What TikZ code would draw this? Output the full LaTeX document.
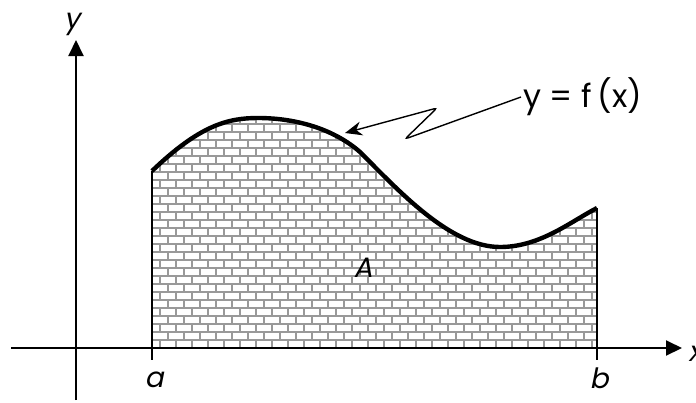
\documentclass[tikz,border=0pt]{standalone}
\usepackage{fontspec}
\setmainfont{Poppins}
\newfontfamily\slantfont{Poppins}[FakeSlant=0.2]
\usetikzlibrary{arrows.meta}

\begin{document}
\begin{tikzpicture}[
    x=0.5pt, y=-0.5pt,
    every node/.style={font=\fontsize{14}{17}\selectfont, inner sep=1pt},
    varlabel/.style={font=\fontsize{14}{17}\selectfont\slantfont},
    axis/.style={line width=1pt, -{Triangle[length=8pt,width=7.5pt]}},
    bound/.style={line width=1pt},
    graphline/.style={line width=2.2pt, line join=round},
    brick/.style={draw=gray!80, line width=0.75pt},
    pointer/.style={line width=0.7pt, rounded corners=1.5pt, -{Stealth[length=8.5pt,width=7pt]}}
  ]
  \useasboundingbox (0,0) rectangle (696,402);

  % Bricks under the graph
  \begin{scope}
    \clip (152,348) -- (152,171) .. controls (200,125) and (228,118) .. (258,118)
      .. controls (298,118) and (335,130) .. (360,152)
      .. controls (398,190) and (450,247) .. (500,247)
      .. controls (540,247) and (570,222) .. (597,208) -- (597,348) -- cycle;
    \foreach \row in {0,...,30} {
      \pgfmathsetmacro\yy{348-8*\row}
      \pgfmathsetmacro\off{mod(\row,2)*8}
      \draw[brick] (150,\yy) -- (600,\yy);
      \foreach \col in {0,...,29}
        \draw[brick] ({144+\off+16*\col},\yy) -- ++(0,-8);
    }
  \end{scope}

  % Axes
  \coordinate (xstart) at (11,348);
  \coordinate (xend) at (682,348);
  \coordinate (ybot) at (76,400);
  \coordinate (ytop) at (76,40);
  \draw[axis] (xstart) -- (xend);
  \draw[axis] (ybot) -- (ytop);

  % Bounds a and b
  \coordinate (fa) at (152,171);
  \coordinate (ta) at (152,360);
  \coordinate (fb) at (597,208);
  \coordinate (tb) at (597,360);
  \draw[bound] (fa) -- (ta);
  \draw[bound] (fb) -- (tb);

  % Graph
  \draw[graphline] (fa) .. controls (200,125) and (228,118) .. (258,118)
    .. controls (298,118) and (335,130) .. (360,152)
    .. controls (398,190) and (450,247) .. (500,247)
    .. controls (540,247) and (570,222) .. (fb);

  % Labels
  \node[varlabel] (ylab) at (72,24) {y};
  \node[varlabel, anchor=west] (xlab) at (686,354) {x};
  \node[varlabel] (alab) at (154,380) {a};
  \node[varlabel] (blab) at (599,378) {b};
  \node[varlabel] (area) at (363,268) {A};
  \node[anchor=west, font=\fontsize{16}{19}\selectfont] (flab) at (521,97) {y = f\,(x)};

  % Pointer to the graph
  \coordinate (tip) at (345,133);
  \draw[pointer] (flab.west) -- (405,139) -- (437,108) -- (tip);

\end{tikzpicture}
\end{document}
